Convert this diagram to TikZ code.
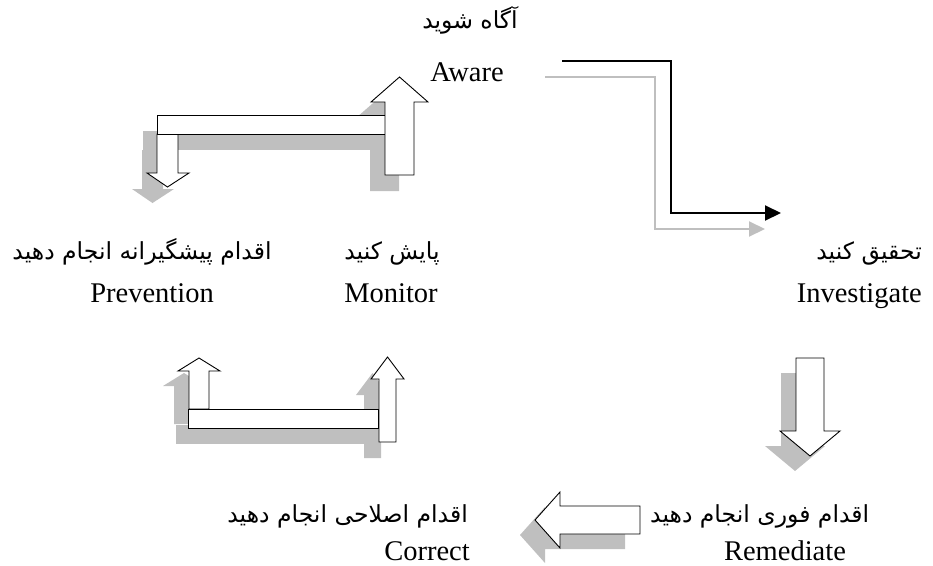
\documentclass[tikz,border=0pt]{standalone}
\usepackage{fontspec}
\usetikzlibrary{arrows.meta}
\setmainfont{Liberation Serif}
\newfontfamily\farsi[Script=Arabic]{DejaVu Sans}
\TeXXeTstate=1
\tikzset{
  boxw/.style={draw=black, fill=white, line width=0.9pt, line join=miter},
  shad/.style={fill=black!25, draw=none},
  lblen/.style={font=\fontsize{28.5}{30}\selectfont, inner sep=0pt},
  lblfa/.style={font=\fontsize{23.5}{26}\selectfont\farsi, inner sep=0pt},
  flowblack/.style={draw=black, line width=2pt, -{Triangle[length=16pt,width=15pt]}},
  flowgray/.style={draw=black!25, line width=2pt, -{Triangle[length=16pt,width=15pt]}},
}
\newcommand\upBar[1]{\path[#1] (157,115) rectangle (385,134);}
\newcommand\upDown[1]{\path[#1] (157,134) -- (157,173) -- (147,173) -- (167.5,187) -- (189,173) -- (178,173) -- (178,134) -- cycle;}
\newcommand\upMon[1]{\path[#1] (385,175) -- (385,102) -- (371,102) -- (399.5,77) -- (428,102) -- (414,102) -- (414,175) -- cycle;}
\newcommand\loBar[1]{\path[#1] (188,409) rectangle (378,428);}
\newcommand\loLeft[1]{\path[#1] (189,409) -- (189,371) -- (178,371) -- (199,358) -- (220,371) -- (209,371) -- (209,409) -- cycle;}
\newcommand\loRight[1]{\path[#1] (379,442) -- (379,379) -- (371,379) -- (387.5,357) -- (404,379) -- (396,379) -- (396,442) -- cycle;}
\newcommand\invDown[1]{\path[#1] (796,358) -- (796,431) -- (780,431) -- (810,456) -- (840,431) -- (824,431) -- (824,358) -- cycle;}
\newcommand\remLeft[1]{\path[#1] (640,506) -- (560,506) -- (560,492) -- (535,520) -- (560,548) -- (560,534) -- (640,534) -- cycle;}
\begin{document}
\begin{tikzpicture}[x=1pt,y=-1pt]
\useasboundingbox (0,0) rectangle (933,565);
% shadows
\upBar{shad, shift={(-14,16)}}
\upDown{shad, shift={(-15,16)}}
\upMon{shad, shift={(-15,16)}}
\loBar{shad, shift={(-12,16)}}
\loLeft{shad, shift={(-15,15)}}
\loRight{shad, shift={(-15,16)}}
\invDown{shad, shift={(-15,15)}}
\remLeft{shad, shift={(-15,15)}}
% white block arrows
\upDown{boxw}
\upBar{boxw}
\upMon{boxw}
\loLeft{boxw}
\loBar{boxw}
\loRight{boxw}
\invDown{boxw}
\remLeft{boxw}
% labels
\node[lblfa, anchor=base] (awfa) at (470,28) {\beginR آگاه شوید\endR};
\node[lblen, anchor=base] (awen) at (467,81) {Aware};
\node[lblfa, anchor=base] (mofa) at (392,259) {\beginR پایش کنید\endR};
\node[lblen, anchor=base] (moen) at (391,302) {Monitor};
\node[lblfa, anchor=base] (prfa) at (142,259) {\beginR اقدام پیشگیرانه انجام دهید\endR};
\node[lblen, anchor=base] (pren) at (152,302) {Prevention};
\node[lblfa, anchor=base east] (infa) at (922,259) {\beginR تحقیق کنید\endR};
\node[lblen, anchor=base east] (inen) at (922,302) {Investigate};
\node[lblfa, anchor=base east] (cofa) at (468,522) {\beginR اقدام اصلاحی انجام دهید\endR};
\node[lblen, anchor=base east] (coen) at (470,560) {Correct};
\node[lblfa, anchor=base west] (refa) at (650,522) {\beginR اقدام فوری انجام دهید\endR};
\node[lblen, anchor=base] (reen) at (785,560) {Remediate};
% aware -> investigate connector
\coordinate (gS) at (545,77);
\coordinate (gA) at (655,77);
\coordinate (gB) at (655,229);
\coordinate (gE) at (765,229);
\coordinate (kS) at (562,61);
\coordinate (kA) at (671,61);
\coordinate (kB) at (671,213);
\coordinate (kE) at (781,213);
\draw[flowgray] (gS) -- (gA) -- (gB) -- (gE);
\draw[flowblack] (kS) -- (kA) -- (kB) -- (kE);
\end{tikzpicture}
\end{document}
